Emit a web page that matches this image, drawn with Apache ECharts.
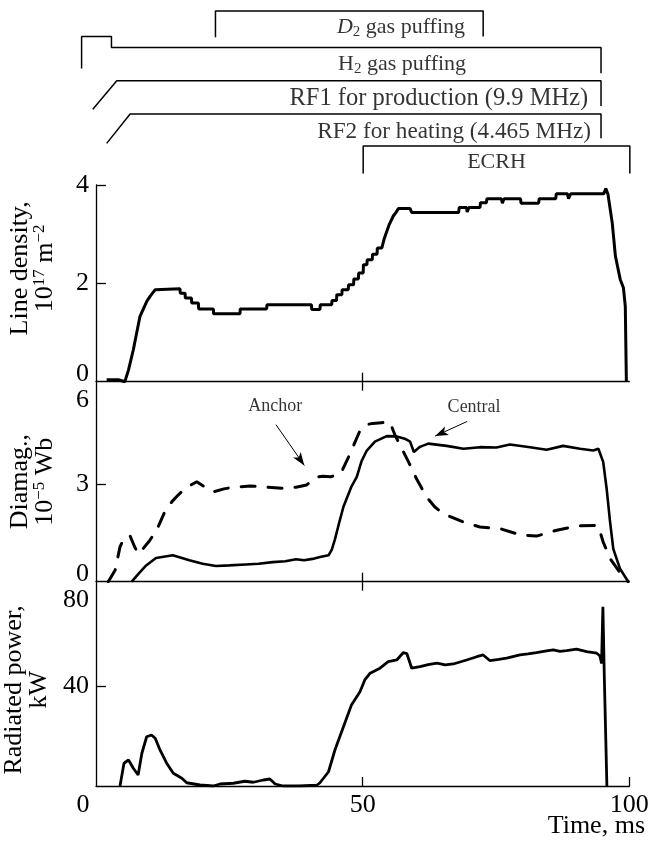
<!DOCTYPE html>
<html><head><meta charset="utf-8">
<script src="https://cdn.jsdelivr.net/npm/echarts@6/dist/echarts.min.js"></script>
<style>html,body{margin:0;padding:0;background:#fff}#c{width:652px;height:844px}</style>
</head><body><div id="c"></div>
<script>
// ---------- tick labels ----------
const timeTicks = [0, 50, 100];
const densityTicks = [0, 2, 4];
const diamagTicks = [0, 3, 6];
const powerTicks = [40, 80];

// ---------- timing diagram (time ms, row level) ----------
const d2Puff = [[22.4,1.24],[22.4,0.37],[72.6,0.37],[72.6,1.22]];
const h2Puff = [[-2.7,2.28],[-2.7,1.22],[2.9,1.22],[2.9,1.58],[94.7,1.58],[94.7,2.44]];
const rf1 = [[-0.6,3.64],[3.9,2.69],[94.7,2.69],[94.7,3.53]];
const rf2 = [[2.0,4.78],[6.4,3.80],[94.7,3.80],[94.7,4.61]];
const ecrh = [[50.1,5.78],[50.1,4.87],[100.1,4.87],[100.1,5.78]];
const timingLabels = [
  {t:69.2, lvl:0.90, text:'{i|D}{s|2}{n| gas puffing}', align:'right'},
  {t:69.4, lvl:2.13, text:'{n|H}{s|2}{n| gas puffing}', align:'right'},
  {t:92.3, lvl:3.27, text:'{b|RF1 for production (9.9 MHz)}', align:'right'},
  {t:92.8, lvl:4.39, text:'{m|RF2 for heating (4.465 MHz)}', align:'right'},
  {t:75.1, lvl:5.41, text:'{n|ECRH}', align:'center'}
];

// ---------- line density (10^17 m^-2) ----------
const density = [[2.0,0.04],[4.2,0.04],[4.3,0],[5.4,0],[6.1,0.24],[7.0,0.65],[8.25,1.33],[9.5,1.63],[10.1,1.73],[10.6,1.80],[11.1,1.87],[11.4,1.89],
[15.75,1.89],[15.8,1.80],[16.7,1.80],[16.75,1.70],[17.9,1.70],[17.95,1.60],[19.2,1.60],[19.25,1.48],[22.0,1.48],[22.05,1.38],[27.0,1.38],[27.05,1.48],
[32.0,1.48],[32.05,1.565],[40.4,1.565],[40.45,1.47],[42.0,1.47],[42.05,1.565],[44.2,1.565],[44.25,1.65],[45.1,1.65],[45.15,1.77],[46.1,1.77],[46.15,1.87],
[47.3,1.87],[47.35,1.97],[48.3,1.97],[48.35,2.09],[49.2,2.09],[49.25,2.21],[50.1,2.21],[50.15,2.38],[50.8,2.38],[50.85,2.48],[51.8,2.48],[51.85,2.59],
[52.7,2.59],[52.75,2.72],[53.6,2.72],[54.0,2.89],[54.5,3.05],[55.0,3.20],[55.75,3.37],[56.3,3.45],[56.7,3.52],[58.9,3.52],[59.2,3.44],[68.0,3.44],
[68.1,3.54],[69.5,3.54],[69.6,3.45],[69.9,3.54],[72.0,3.54],[72.1,3.64],[73.2,3.64],[73.3,3.72],[76.0,3.72],[76.2,3.63],[76.5,3.72],[79.6,3.72],
[79.7,3.63],[83.0,3.63],[83.1,3.72],[86.2,3.72],[86.3,3.82],[88.4,3.82],[88.6,3.72],[89.0,3.82],[95.2,3.82],[95.6,3.93],[96.0,3.81],[96.8,3.23],
[97.4,2.55],[98.3,2.08],[98.9,1.91],[99.25,1.53],[99.45,0]];

// ---------- diamagnetic signal (10^-5 Wb) ----------
const central = [[6.7,0],[8.0,0.25],[9.4,0.50],[11.25,0.73],[14.4,0.81],[17.5,0.66],[20,0.55],[22.5,0.48],[25,0.50],[28.1,0.53],[30.5,0.55],
[33.1,0.60],[35.5,0.63],[37.5,0.69],[39,0.66],[40.6,0.70],[42,0.76],[43.6,0.81],[44.2,0.98],[44.8,1.30],[45.5,1.75],[46.4,2.30],[47.9,2.92],
[48.9,3.22],[49.8,3.70],[50.75,4.02],[52.3,4.30],[54.5,4.47],[56.4,4.46],[57.9,4.39],[58.9,4.30],[59.6,3.98],[60.75,4.14],[62.3,4.24],[65.75,4.17],
[68.9,4.08],[72,4.13],[75.1,4.12],[77.6,4.21],[81.4,4.13],[84.5,4.05],[87.6,4.17],[90.75,4.08],[93.25,4.03],[94.2,4.08],[95.1,3.68],[95.75,2.86],
[96.4,1.83],[97.0,1.01],[98.25,0.40],[99.8,0]];
const anchor = [[2.3,0],[3.6,0.36],[4.5,1.07],[5.4,1.38],[6.4,1.40],[7.3,1.05],[8.0,0.85],[8.6,0.97],[10.0,1.25],[11.4,1.59],[12.9,2.15],
[14.2,2.45],[15.4,2.66],[17.0,2.90],[18.9,3.07],[20.5,2.90],[22,2.76],[24,2.85],[25.75,2.90],[28.9,2.94],[32,2.90],[35.1,2.87],[37.5,2.90],
[39.5,2.97],[41.25,3.21],[42.5,3.24],[44,3.22],[45.9,3.32],[47.5,3.88],[49.4,4.60],[50.6,4.82],[51.9,4.86],[53.5,4.88],[55.1,4.90],[56.1,4.49],
[57.3,4.10],[58.6,3.68],[60.1,3.16],[62,2.60],[63.5,2.30],[65.1,2.09],[68.9,1.83],[72,1.68],[75.75,1.63],[79.5,1.44],[82.6,1.40],[86.4,1.58],
[90.1,1.71],[93.6,1.73],[94.2,1.70],[95.1,1.22],[96.4,0.71],[97.9,0.36],[99.8,0]];
const annotations = [
  {name:'Anchor', label:[33.6,5.39], from:[33.75,4.82], to:[39.06,3.57]},
  {name:'Central', label:[70.9,5.34], from:[69.6,4.92], to:[63.6,4.47]}
];

// ---------- radiated power (kW) ----------
const power = [[4.5,0],[5.25,9.1],[6.1,10.4],[7.0,7.1],[7.9,4.4],[8.6,13.1],[9.5,19.7],[10.4,20.4],[11.1,19.1],[12,14.4],[13.25,9.1],[14.5,5.1],
[16.1,3.1],[17,1.3],[19.5,0.4],[22,0],[23.25,0.8],[25.75,1.1],[27.9,1.9],[29.5,1.5],[31.4,2.4],[32.6,2.8],[33.6,0.8],[35.1,0],[38,0],[41.4,0.3],
[42,1.3],[43.6,5.7],[44.8,14.4],[46.4,23.7],[47.9,32.4],[49.5,37.7],[50.4,42.4],[51.4,45.1],[53.25,47.1],[54.8,49.7],[56.4,50.4],[57.6,53.3],
[58.3,52.9],[59.2,47.1],[60.75,47.7],[62.3,48.5],[63.9,49.1],[65.5,48.4],[67,48.8],[69.5,50.4],[71.4,51.7],[72.6,52.4],[73.9,50.1],[75.5,50.6],
[77,51.1],[79.5,52.4],[81,52.8],[82.6,53.3],[84.2,53.9],[85.75,54.4],[87,53.8],[88.25,54.1],[90.1,54.7],[92,53.7],[93.9,53.1],[94.5,52],
[94.8,49],[95.05,71.7],[95.3,45],[95.8,0]];

// ---------- chart ----------
const F = 'Liberation Serif';
const BLACK = '#000';
const chart = echarts.init(document.getElementById('c'), null, {renderer:'canvas'});

const L = 96, R = 22.7, PX_PER_MS = 5.333;
const axLine = {show:true, onZero:false, lineStyle:{color:BLACK, width:1.3}};
const noLine = {show:false, onZero:false};
const tick = (vals, len) => ({show:true, inside:true, length:len, customValues:vals, lineStyle:{color:BLACK, width:1.3}});
const richLbl = {
  n:{fontFamily:F, fontSize:26, color:BLACK},
  up:{fontFamily:F, fontSize:26, color:BLACK, padding:[0,0,16,0]},
  dn:{fontFamily:F, fontSize:26, color:BLACK, padding:[28,0,0,0]},
  l0:{fontFamily:F, fontSize:26, color:BLACK, padding:[0,26,0,0]}
};
const nameRich = {
  n:{fontFamily:F, fontSize:26, color:BLACK, lineHeight:25},
  p:{fontFamily:F, fontSize:17, color:BLACK, lineHeight:17, padding:[0,0,12,0]}
};
const timingRich = {
  n:{fontFamily:F, fontSize:22, color:BLACK, lineHeight:26},
  b:{fontFamily:F, fontSize:24.5, color:BLACK, lineHeight:26},
  m:{fontFamily:F, fontSize:23.2, color:BLACK, lineHeight:26},
  i:{fontFamily:F, fontSize:22, color:BLACK, lineHeight:26, fontStyle:'italic'},
  s:{fontFamily:F, fontSize:15, color:BLACK, lineHeight:15, verticalAlign:'bottom'}
};

function xBase(grid, pos, opts) {
  return Object.assign({type:'value', gridIndex:grid, position:pos, min:0, max:100, interval:50,
    splitLine:{show:false}, axisLabel:{show:false}, axisTick:{show:false}, axisLine:noLine}, opts);
}
function timingLine(data) {
  return {type:'line', xAxisIndex:0, yAxisIndex:0, data:data, symbol:'none', clip:false, silent:true,
    lineStyle:{color:BLACK, width:1.5}};
}
const gridBase = {outerBoundsMode:'none', containLabel:false, right:R};

const option = {
  animation:false,
  backgroundColor:'#fff',
  textStyle:{fontFamily:F},
  title:{text:'Time, ms', right:7, top:813, padding:0,
    textStyle:{fontFamily:F, fontSize:26, fontWeight:'normal', color:BLACK}},
  grid:[
    Object.assign({left:L - 10 * PX_PER_MS, top:0, height:180}, gridBase),
    Object.assign({left:L, top:185, height:196.7}, gridBase),
    Object.assign({left:L, top:381.7, height:200}, gridBase),
    Object.assign({left:L, top:581.7, height:204.3}, gridBase)
  ],
  xAxis:[
    xBase(0, 'bottom', {show:false, min:-10, interval:10}),
    xBase(1, 'bottom', {axisLine:axLine, axisTick:tick([50], 9)}),
    xBase(2, 'top', {axisTick:tick([50], 9)}),
    xBase(2, 'bottom', {axisLine:axLine, axisTick:tick([50], 9)}),
    xBase(3, 'top', {axisTick:tick([50], 9)}),
    xBase(3, 'bottom', {axisLine:axLine, axisTick:tick([50, 100], 9),
      axisLabel:{show:true, margin:6, customValues:timeTicks, fontFamily:F, fontSize:26, color:BLACK,
        formatter:v => v === 0 ? '{l0|0}' : '{n|' + v + '}', rich:richLbl}})
  ],
  yAxis:[
    {type:'value', gridIndex:0, min:0, max:6, inverse:true, show:false},
    {type:'value', gridIndex:1, min:0, max:4, interval:2, axisLine:axLine, splitLine:{show:false},
      axisTick:tick([2,4], 10),
      axisLabel:{margin:7, customValues:densityTicks, fontFamily:F, fontSize:26, color:BLACK, rich:richLbl,
        formatter:v => v === 0 ? '{up|0}' : '{n|' + v + '}'},
      name:'{n|Line density,}\n{n|10}{p|17}{n| m}{p|\u22122}', nameLocation:'middle', nameRotate:90, nameGap:38,
      nameTextStyle:{rich:nameRich, padding:[0,0,0,30]}},
    {type:'value', gridIndex:2, min:0, max:6.14, axisLine:axLine, splitLine:{show:false},
      axisTick:tick([3], 10),
      axisLabel:{margin:7, customValues:diamagTicks, fontFamily:F, fontSize:26, color:BLACK, rich:richLbl,
        formatter:v => v === 0 ? '{up|0}' : (v === 6 ? '{dn|6}' : '{n|' + v + '}')},
      name:'{n|Diamag.,}\n{n|10}{p|\u22125}{n| Wb}', nameLocation:'middle', nameRotate:90, nameGap:38,
      nameTextStyle:{rich:nameRich}},
    {type:'value', gridIndex:3, min:0, max:81.7, axisLine:axLine, splitLine:{show:false},
      axisTick:tick([40], 10),
      axisLabel:{margin:7, customValues:powerTicks, fontFamily:F, fontSize:26, color:BLACK, rich:richLbl,
        formatter:v => v === 80 ? '{dn|80}' : '{n|' + v + '}'},
      name:'{n|Radiated power,}\n{n|kW}', nameLocation:'middle', nameRotate:90, nameGap:38,
      nameTextStyle:{rich:nameRich, padding:[0,12,0,0]}}
  ],
  series:[
    timingLine(d2Puff), timingLine(h2Puff), timingLine(rf1), timingLine(rf2), timingLine(ecrh),
    {type:'scatter', xAxisIndex:0, yAxisIndex:0, symbolSize:0, silent:true, clip:false,
      data: timingLabels.map(d => ({value:[d.t, d.lvl],
        label:{show:true, position:'inside', align:d.align, verticalAlign:'middle', formatter:d.text, rich:timingRich}}))},
    {type:'line', name:'density', xAxisIndex:1, yAxisIndex:1, data:density, symbol:'none', silent:true,
      lineStyle:{color:BLACK, width:3}},
    {type:'line', name:'central', xAxisIndex:3, yAxisIndex:2, data:central, symbol:'none', silent:true,
      lineStyle:{color:BLACK, width:2.6}},
    {type:'line', name:'anchor', xAxisIndex:3, yAxisIndex:2, data:anchor, symbol:'none', silent:true,
      lineStyle:{color:BLACK, width:3, type:[14,13], cap:'round'}},
    {type:'scatter', xAxisIndex:3, yAxisIndex:2, symbolSize:0, silent:true,
      data: annotations.map(a => ({value:a.label, name:a.name})),
      label:{show:true, position:'inside', formatter:'{b}', fontFamily:F, fontSize:18, color:BLACK},
      markLine:{silent:true, symbol:['none','arrow'], symbolSize:[7,13], animation:false,
        lineStyle:{color:BLACK, width:1, type:'solid'}, label:{show:false},
        data: annotations.map(a => [{coord:a.from}, {coord:a.to}])}},
    {type:'line', name:'power', xAxisIndex:5, yAxisIndex:3, data:power, symbol:'none', silent:true,
      lineStyle:{color:BLACK, width:2.8}}
  ]
};
chart.setOption(option);
</script>
</body></html>
